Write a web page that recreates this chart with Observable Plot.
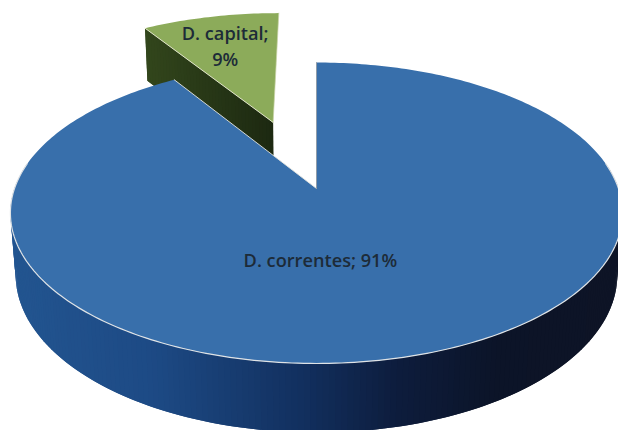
<!DOCTYPE html>
<html>
<head>
<meta charset="utf-8">
<style>html,body{margin:0;padding:0;background:#fff}svg{display:block}</style>
<script src="https://cdn.jsdelivr.net/npm/d3@7"></script>
<script src="https://cdn.jsdelivr.net/npm/@observablehq/plot@0.6"></script>
</head>
<body>
<div id="chart"></div>
<script>
const categories = ["D. correntes", "D. capital"];
const shares = [91, 9];
const faceColors = ["#386fab", "#8cab5a"];
const wallStops = [20, 150, 300, 400, 500, 620];
const wallColors = ["#22548f", "#1d4a85", "#12305f", "#0d1c3c", "#0c1428", "#0e1426"];
const greenWallStops = [140, 275];
const greenWallColors = ["#33471c", "#1c2811"];

// Perspective view of the pie disk
const view = {ox: 316, oy: 188, a: 146.5, c: 302, k: 0.1628, d: 62, e: 0.017};
const project = (u, v, depth = 0) => {
  const w = 1 + view.k * v + view.e * depth;
  return [view.ox + view.c * u / w, view.oy - (view.a * v - view.d * depth) / w];
};
const pie = d3.pie().sort(null).value(d => d)(shares);
const explode = [[0, 0], [-0.155, 0.487]];
const rimPoint = (i, t) => [explode[i][0] + Math.sin(t), explode[i][1] + Math.cos(t)];
const arcAngles = (a, b) => {
  const n = Math.ceil((b - a) / (Math.PI / 180));
  return d3.range(n + 1).map(j => a + (b - a) * j / n);
};
const facePolygon = i => {
  const p = pie[i];
  const pts = [explode[i], ...arcAngles(p.startAngle, p.endAngle).map(t => rimPoint(i, t))];
  return pts.map(([u, v]) => project(u, v));
};

// Strips overlap the next one, so that no seam shows between them
const strips = (path) => path.slice(0, -1).flatMap((a, s) => {
  const b = path[Math.min(s + 2, path.length - 1)];
  const quad = [project(...a), project(...b), project(...b, 1), project(...a, 1)];
  const shade = (project(...a)[0] + project(...path[s + 1])[0]) / 2;
  return quad.map(q => ({x: q[0], y: q[1], s, shade}));
});

// Front of the blue slice
const frontFrom = 80 * Math.PI / 180, frontTo = 280 * Math.PI / 180;
const frontAngles = arcAngles(frontFrom, frontTo);
const blueWall = strips(frontAngles.map(t => rimPoint(0, t)));

// Cut side of the green slice that faces the viewer
const greenStart = rimPoint(1, pie[1].startAngle);
const greenPath = d3.range(41).map(j => j / 40).map(f => [
  explode[1][0] + (greenStart[0] - explode[1][0]) * f,
  explode[1][1] + (greenStart[1] - explode[1][1]) * f
]);
const greenWall = strips(greenPath);
const greenShade = d3.piecewise(d3.interpolateRgb, greenWallColors);
const greenFill = d => greenShade((d.shade - greenWallStops[0]) / (greenWallStops[1] - greenWallStops[0]));

const rimFront = frontAngles.map(t => project(...rimPoint(0, t)));
const blueCutEdge = [explode[0], rimPoint(0, pie[0].endAngle)].map(p => project(...p));
const blueStraight = [rimPoint(0, pie[0].startAngle), explode[0]].map(p => project(...p));
const greenCutEdge = [explode[1], greenStart].map(p => project(...p));
const greenStraight = [explode[1], rimPoint(1, pie[1].endAngle)].map(p => project(...p));

const labels = [
  {text: "D. correntes; 91%", at: project(0.012, -0.445)},
  {text: "D. capital;\n9%", at: project(-0.36, 1.17)}
];

const poly = (pts, fill) => Plot.line(pts, {x: d => d[0], y: d => d[1], fill, stroke: "none"});
const edge = (pts, stroke, strokeWidth) => Plot.line(pts, {x: d => d[0], y: d => d[1], stroke, strokeWidth});

const chart = Plot.plot({
  width: 618,
  height: 430,
  margin: 0,
  x: {domain: [0, 618], range: [0, 618], axis: null},
  y: {domain: [0, 430], range: [0, 430], axis: null},
  color: {type: "linear", domain: wallStops, range: wallColors},
  style: {background: "#fff"},
  marks: [
    Plot.line(greenWall, {x: "x", y: "y", z: "s", fill: greenFill, stroke: "none"}),
    poly(facePolygon(1), faceColors[1]),
    edge(greenCutEdge, "#dfe3c8", 1),
    edge(greenStraight, "#c9d3a8", 0.7),
    Plot.line(blueWall, {x: "x", y: "y", z: "s", fill: "shade", stroke: "none"}),
    poly(facePolygon(0), faceColors[0]),
    edge(blueCutEdge, "#e6e6e0", 0.9),
    edge(blueStraight, "#8d959c", 0.8),
    edge(rimFront, "#dfe3e6", 1.2),
    Plot.text(labels, {
      x: d => d.at[0], y: d => d.at[1], text: "text",
      fontFamily: "Open Sans", fontWeight: 600, fontSize: 18.2,
      lineHeight: 1.43, fill: "#1d2b38"
    })
  ]
});
document.getElementById("chart").append(chart);
</script>
</body>
</html>
